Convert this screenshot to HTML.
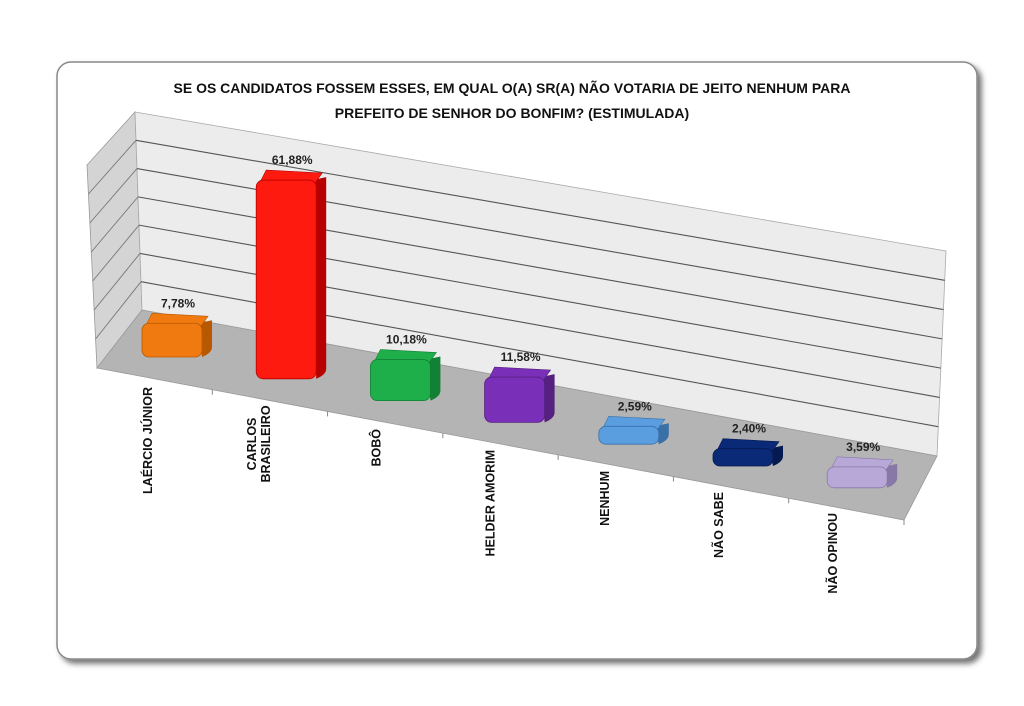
<!DOCTYPE html>
<html><head><meta charset="utf-8">
<style>
html,body{margin:0;padding:0;background:#fff;}
body{width:1024px;height:701px;overflow:hidden;font-family:"Liberation Sans",sans-serif;}
</style></head>
<body>
<svg width="1024" height="701" viewBox="0 0 1024 701" xmlns="http://www.w3.org/2000/svg">
<defs>
<filter id="sh" x="-5%" y="-5%" width="112%" height="115%"><feDropShadow dx="4" dy="4" stdDeviation="3" flood-color="#000" flood-opacity="0.55"/></filter>
</defs>
<rect x="57" y="62" width="920" height="597" rx="14" fill="#fff" stroke="#888" stroke-width="1.5" filter="url(#sh)"/>
<text x="512" y="93" text-anchor="middle" font-size="14" font-weight="bold" fill="#111" style="font-stretch:condensed">SE OS CANDIDATOS FOSSEM ESSES, EM QUAL O(A) SR(A) NÃO VOTARIA DE JEITO NENHUM PARA</text>
<text x="512" y="118" text-anchor="middle" font-size="14" font-weight="bold" fill="#111">PREFEITO DE SENHOR DO BONFIM? (ESTIMULADA)</text>
<polygon points="87,165 135,112 142,310 97,368" fill="#d4d4d4" stroke="#999" stroke-width="0.8"/>
<polygon points="135,112 946,251 937,456 142,310" fill="#ececec" stroke="#aaa" stroke-width="0.8"/>
<polygon points="97,368 142,310 937,456 904,520" fill="#b4b4b4" stroke="#999" stroke-width="0.8"/>
<g id="grid"></g>
<g id="bars"></g>
<g id="labels"></g>
</svg>
<script>
const categories = ["LAÉRCIO JÚNIOR", "CARLOS|BRASILEIRO", "BOBÔ", "HELDER AMORIM", "NENHUM", "NÃO SABE", "NÃO OPINOU"];
const values = [7.78, 61.88, 10.18, 11.58, 2.59, 2.40, 3.59];
const valueLabels = ["7,78%", "61,88%", "10,18%", "11,58%", "2,59%", "2,40%", "3,59%"];
const colors = ["#f07a10", "#ff1a10", "#1faf4a", "#7a2fb8", "#5a9ee0", "#0a2a78", "#b8a8d8"];
const darkColors = ["#b85800", "#b80000", "#128035", "#55207f", "#3a70a8", "#051a50", "#8878a8"];
const gridCount = 7;

const NS = "http://www.w3.org/2000/svg";
function mk(tag, attrs, parent){ const e=document.createElementNS(NS,tag); for(const k in attrs) e.setAttribute(k,attrs[k]); parent.appendChild(e); return e; }
function xCenter(i){ return 172 + i*114.2; }
function baseY(i){ return 357 + i*21.8; }
function barH(v){ return 10 + v*3.05; }

const grid = document.getElementById('grid');
for (let g=1; g<gridCount; g++){
  const t = g/gridCount;
  const ln = mk('line', {x1:142+(135-142)*t, y1:310+(112-310)*t, x2:937+(946-937)*t, y2:456+(251-456)*t, stroke:'#555', 'stroke-width':1.1}, grid);
  
  
  const sl = mk('line', {x1:97+(87-97)*t, y1:368+(165-368)*t, x2:142+(135-142)*t, y2:310+(112-310)*t, stroke:'#777', 'stroke-width':0.9}, grid);
  
  
}
for (let i=1;i<=categories.length;i++){
  const x = 97 + (904-97)*i/categories.length, y = 368 + (520-368)*i/categories.length;
  const tk = mk('line',{x1:x,y1:y,x2:x,y2:y+5,stroke:'#888'},grid);
  
  
}

const bars = document.getElementById('bars');
const labels = document.getElementById('labels');
const W = 60, D = 10;
values.forEach((v,i)=>{
  const cx = xCenter(i), by = baseY(i), h = barH(v);
  const x0 = cx - W/2, top = by - h;
  const g = mk('g', {}, bars);
  
  
  mk('path', {d:`M${x0+W-4},${top} L${x0+W+D},${top-3} L${x0+W+D},${by-10} Q${x0+W+D},${by-4} ${x0+W},${by} Z`, fill:darkColors[i]}, g);
  mk('path', {d:`M${x0+4},${top+2} L${x0+10},${top-10} L${x0+W+D-4},${top-7} L${x0+W-2},${top+4} Z`, fill:colors[i], stroke:darkColors[i], 'stroke-width':0.6}, g);
  mk('rect', {x:x0, y:top, width:W, height:h, rx:7, fill:colors[i], stroke:darkColors[i], 'stroke-width':0.8}, g);
  const vl = mk('text', {x:cx+6, y:top-16, 'text-anchor':'middle', 'font-size':12, 'font-weight':'bold', fill:'#222'}, labels);
  vl.textContent = valueLabels[i];
  
  
  const parts = categories[i].split('|');
  const lx = cx - 20, ty = 387 + i*21;
  const t = mk('text', {'font-size':12.5, 'font-weight':'bold', fill:'#111'}, labels);
  
  
  if (parts.length === 1){
    t.setAttribute('text-anchor','end');
    t.setAttribute('transform', `translate(${lx},${ty}) rotate(-90)`);
    t.textContent = parts[0];
  } else {
    t.setAttribute('text-anchor','middle');
    t.setAttribute('transform', `translate(${lx-10},${ty+36}) rotate(-90)`);
    parts.forEach((p,k)=>{ const s=mk('tspan',{x:0,dy:k?14:0},t); s.textContent=p; });
  }
});
</script>
</body></html>
